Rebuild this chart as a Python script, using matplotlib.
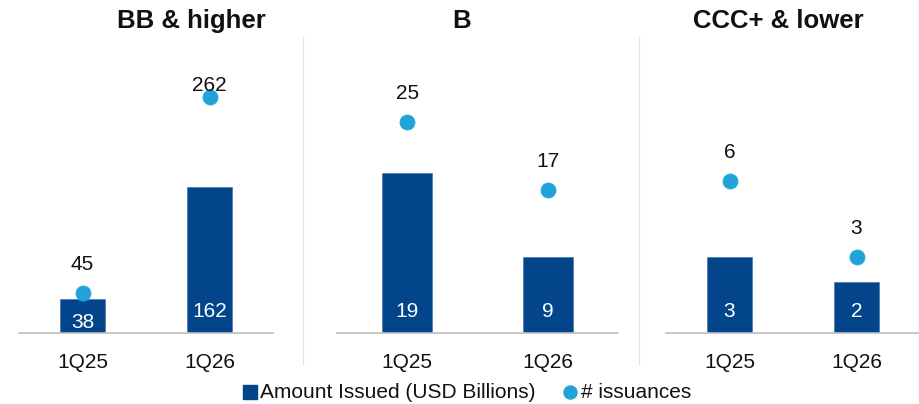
import matplotlib
matplotlib.use("Agg")
import matplotlib.pyplot as plt
from matplotlib.lines import Line2D
from matplotlib.transforms import offset_copy

plt.rcParams['font.family'] = ['Liberation Sans', 'DejaVu Sans']

# ---- data ----
categories = ["1Q25", "1Q26"]
groups = ["BB & higher", "B", "CCC+ & lower"]
amount_bb = [38, 162]
amount_b = [19, 9]
amount_ccc = [3, 2]
issuances_bb = [45, 262]
issuances_b = [25, 17]
issuances_ccc = [6, 3]
legend_labels = ["Amount Issued (USD Billions)", "# issuances"]

amounts = [amount_bb, amount_b, amount_ccc]
issuances = [issuances_bb, issuances_b, issuances_ccc]

# ---- layout ----
W, H, DPI = 920, 404, 100
BAR_C = "#02458A"
DOT_C = "#22A2D6"
AXIS_C = "#BFBFBF"
SEP_C = "#E2E2E2"

def fx(x):
    return x / W

def fy(y):
    return 1 - y / H

fig = plt.figure(figsize=(W / DPI, H / DPI), dpi=DPI)

panel_x = [(19, 273), (337, 618), (666, 920)]
top_px, base_px = 63, 333
ymaxes = [300, 32, 10.67]
title_x = [191, 462, 778]

for k in range(3):
    x0, x1 = panel_x[k]
    ax = fig.add_axes([fx(x0), fy(base_px), (x1 - x0) / W, (base_px - top_px) / H])
    ax.set_xlim(-0.5, 1.5)
    ax.set_ylim(0, ymaxes[k])
    ppu = (base_px - top_px) / ymaxes[k]
    xs = list(range(len(categories)))
    ax.bar(xs, amounts[k], width=0.355, color=BAR_C, edgecolor="#3B6EA5",
           linewidth=0.4, zorder=2)
    ax.plot(xs, issuances[k], 'o', ls='none', ms=10.8, color=DOT_C,
            markeredgecolor="#1DAEE5", markeredgewidth=0.6, zorder=3, clip_on=False)
    for i in xs:
        hpx = amounts[k][i] * ppu
        off = 16 if hpx > 50 else 5
        ax.text(i, 0, str(amounts[k][i]), color="white", fontsize=15,
                ha="center", va="baseline", zorder=4,
                transform=offset_copy(ax.transData, fig=fig, x=0, y=off, units='dots'))
        dpx = issuances[k][i] * ppu
        lab = min(dpx + 23, 242)
        ax.text(i, 0, str(issuances[k][i]), color="#111111", fontsize=15,
                ha="center", va="baseline", zorder=4,
                transform=offset_copy(ax.transData, fig=fig, x=0, y=lab, units='dots'))
        ax.text(i, 0, categories[i], color="#111111", fontsize=15,
                ha="center", va="baseline",
                transform=offset_copy(ax.transData, fig=fig, x=0, y=-35, units='dots'))
    for s in ["top", "left", "right"]:
        ax.spines[s].set_visible(False)
    ax.spines["bottom"].set_color(AXIS_C)
    ax.spines["bottom"].set_linewidth(1.2)
    ax.set_xticks([])
    ax.set_yticks([])
    ax.patch.set_alpha(0)
    fig.text(fx(title_x[k]), fy(28), groups[k], fontsize=18.5, fontweight="bold",
             ha="center", va="baseline", color="#111111")

# separators
for sx in [303, 639]:
    fig.add_artist(Line2D([fx(sx), fx(sx)], [fy(37), fy(364)], color=SEP_C, lw=0.9))

# legend
fig.add_artist(Line2D([fx(250)], [fy(392)], marker='s', ms=9.6, color=BAR_C, ls='none'))
fig.text(fx(260), fy(397.5), legend_labels[0], fontsize=15, ha="left", va="baseline", color="#111111")
fig.add_artist(Line2D([fx(570)], [fy(392)], marker='o', ms=9.4, color=DOT_C, ls='none'))
fig.text(fx(581), fy(397.5), legend_labels[1], fontsize=15, ha="left", va="baseline", color="#111111")

fig.savefig("out.png", dpi=DPI)
